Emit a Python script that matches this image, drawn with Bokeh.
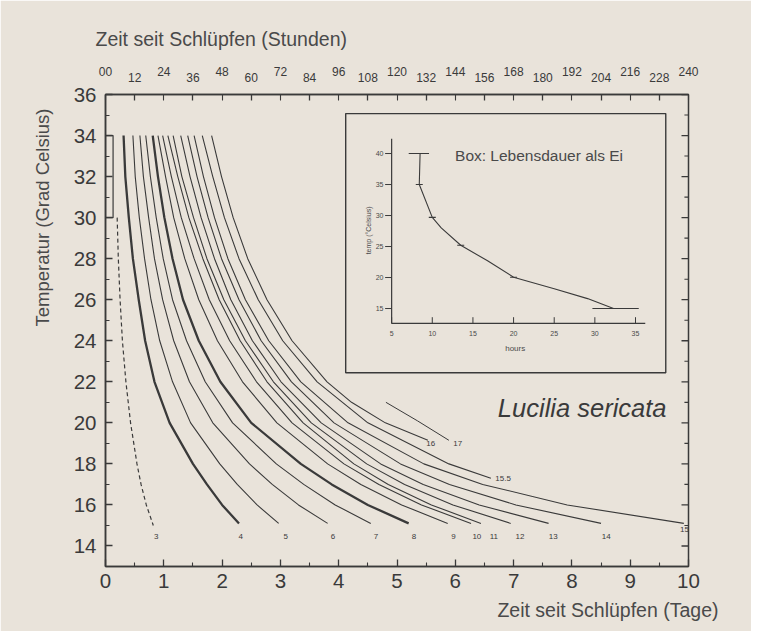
from math import pi
from bokeh.plotting import figure
from bokeh.models import LinearAxis, Range1d, FixedTicker, Title
from bokeh.core.properties import value
from bokeh.embed import file_html
from bokeh.resources import INLINE

# ---------------- data ----------------
# temperatures (deg C) at which each isoline was read
temps_full = [34, 32, 30, 28, 26, 24, 22, 20, 18, 17, 16, 15.1]
temps_3 = [30, 28, 26, 24, 22, 20, 18, 17, 16, 15.0]
temps_15_5 = [34, 32, 30, 28, 26, 24, 22, 20, 18, 17.3]
temps_16 = [34, 32, 30, 28, 26, 24, 22, 21, 20, 19.15]
temps_17 = [21.0, 20.1, 19.15]

# time since hatching (days) of each isoline
days_3 = [0.20, 0.22, 0.25, 0.29, 0.35, 0.43, 0.54, 0.61, 0.70, 0.82]
days_4 = [0.31, 0.34, 0.40, 0.47, 0.57, 0.68, 0.84, 1.10, 1.50, 1.74, 2.00, 2.29]
days_5 = [0.47, 0.51, 0.58, 0.67, 0.78, 0.93, 1.15, 1.46, 1.96, 2.26, 2.60, 2.97]
days_6 = [0.59, 0.65, 0.74, 0.84, 0.98, 1.17, 1.44, 1.84, 2.47, 2.86, 3.31, 3.81]
days_7 = [0.69, 0.77, 0.87, 0.99, 1.15, 1.39, 1.71, 2.18, 2.93, 3.40, 3.94, 4.55]
days_8 = [0.81, 0.90, 1.01, 1.15, 1.33, 1.60, 1.97, 2.50, 3.35, 3.88, 4.50, 5.20]
days_9 = [0.90, 1.03, 1.17, 1.36, 1.60, 1.92, 2.35, 2.94, 3.81, 4.38, 5.08, 5.87]
days_10 = [0.98, 1.13, 1.30, 1.52, 1.78, 2.13, 2.59, 3.20, 4.09, 4.69, 5.42, 6.27]
days_11 = [1.07, 1.24, 1.43, 1.67, 1.95, 2.31, 2.77, 3.39, 4.26, 4.85, 5.59, 6.44]
days_12 = [1.16, 1.31, 1.51, 1.74, 2.03, 2.40, 2.88, 3.53, 4.48, 5.13, 5.96, 6.95]
days_13 = [1.29, 1.45, 1.64, 1.87, 2.15, 2.52, 3.01, 3.70, 4.72, 5.45, 6.41, 7.60]
days_14 = [1.41, 1.57, 1.76, 1.99, 2.29, 2.67, 3.19, 3.92, 5.06, 5.90, 7.04, 8.50]
days_15 = [1.52, 1.68, 1.87, 2.10, 2.40, 2.80, 3.35, 4.16, 5.46, 6.47, 7.92, 9.92]
days_15_5 = [1.66, 1.84, 2.04, 2.29, 2.62, 3.04, 3.63, 4.50, 5.89, 6.61]
days_16 = [1.82, 1.99, 2.19, 2.44, 2.77, 3.20, 3.80, 4.22, 4.80, 5.53]
days_17 = [4.81, 5.35, 5.89]

curve_label_text = ["3", "4", "5", "6", "7", "8", "9", "10", "11", "12", "13", "14",
                    "15", "15.5", "16", "17"]
curve_label_days = [0.87, 2.32, 3.09, 3.90, 4.64, 5.29, 5.97, 6.37, 6.66, 7.11, 7.68,
                    8.59, 9.93, 6.82, 5.58, 6.04]
curve_label_temp = [14.45, 14.45, 14.45, 14.45, 14.45, 14.45, 14.45, 14.45, 14.45,
                    14.45, 14.45, 14.45, 14.8, 17.3, 19.0, 19.0]

# egg duration box (days, deg C)
egg_box_days = [0.0, 0.13]
egg_box_temp = [30, 34]

# inset: egg life span (hours vs deg C)
inset_hours = [8.5, 8.4, 10.0, 11.1, 13.5, 16.8, 20.0, 25.0, 29.1, 32.3]
inset_temp = [40, 35, 29.7, 28.0, 25.2, 22.7, 20.05, 18.2, 16.6, 15.0]
inset_pt_hours = [8.4, 10.0, 13.5, 20.0, 32.3]
inset_pt_temp = [35, 29.7, 25.2, 20.05, 15.0]
inset_cap_hours = [7.1, 9.6]
inset_cap_temp = [40, 40]
inset_bar_hours = [29.7, 35.4]
inset_bar_temp = [15, 15]
inset_xticks = [5, 10, 15, 20, 25, 30, 35]
inset_yticks = [15, 20, 25, 30, 35, 40]

# axis ticks
day_ticks = [0, 1, 2, 3, 4, 5, 6, 7, 8, 9, 10]
day_minor = [0.5, 1.5, 2.5, 3.5, 4.5, 5.5, 6.5, 7.5, 8.5, 9.5]
temp_ticks = [14, 16, 18, 20, 22, 24, 26, 28, 30, 32, 34, 36]
temp_minor = [13, 15, 17, 19, 21, 23, 25, 27, 29, 31, 33, 35]
hour_ticks_odd = [12, 36, 60, 84, 108, 132, 156, 180, 204, 228]
hour_ticks_even = [0, 24, 48, 72, 96, 120, 144, 168, 192, 216, 240]

# ---------------- styling ----------------
INK = "#3a3a3a"
SOFT = "#4a4a4a"
BG = "#e9e3da"
FONT = "Liberation Sans"

p = figure(width=751, height=631, x_range=Range1d(0, 10), y_range=Range1d(13, 36),
           output_backend="svg", toolbar_location=None, title=None,
           min_border_left=105, min_border_right=63, min_border_top=94,
           min_border_bottom=65, background_fill_color=BG, border_fill_color=BG)
p.grid.visible = False
p.outline_line_color = INK
p.outline_line_width = 1.5

p.extra_x_ranges = {"hours": Range1d(0, 240), "ix": Range1d(-30.2, 41.52)}
p.extra_y_ranges = {"iy": Range1d(-26.61, 49.52)}


def style_axis(ax, size, tick_in=7, minor_in=4):
    ax.axis_line_color = INK
    ax.axis_line_width = 1.5
    ax.major_tick_line_color = INK
    ax.major_tick_line_width = 1.3
    ax.minor_tick_line_color = INK
    ax.minor_tick_line_width = 1.1
    ax.major_tick_in = tick_in
    ax.major_tick_out = 0
    ax.minor_tick_in = minor_in
    ax.minor_tick_out = 0
    ax.major_label_text_font = FONT
    ax.major_label_text_font_size = size
    ax.major_label_text_color = INK


xa = p.xaxis[0]
xa.ticker = FixedTicker(ticks=day_ticks, minor_ticks=day_minor)
style_axis(xa, "20.5px")
xa.major_label_standoff = 7

ya = p.yaxis[0]
ya.ticker = FixedTicker(ticks=temp_ticks, minor_ticks=temp_minor)
style_axis(ya, "20.5px")
ya.major_label_standoff = 9

ta = LinearAxis(x_range_name="hours",
                ticker=FixedTicker(ticks=hour_ticks_odd, minor_ticks=hour_ticks_even))
style_axis(ta, "12px", tick_in=6, minor_in=6)
ta.major_label_standoff = 13
p.add_layout(ta, "above")

tb = LinearAxis(x_range_name="hours", ticker=FixedTicker(ticks=hour_ticks_even))
style_axis(tb, "12px", tick_in=0, minor_in=0)
tb.axis_line_color = None
tb.major_tick_line_color = None
tb.minor_tick_line_color = None
tb.major_label_standoff = -6
tb.major_label_overrides = {0: "00"}
p.add_layout(tb, "above")

p.add_layout(Title(text="Zeit seit Schlüpfen (Stunden)", align="left", offset=-10,
                   standoff=28, text_font=FONT, text_font_size="19.5px",
                   text_font_style="normal", text_color=SOFT), "above")
p.add_layout(Title(text="Zeit seit Schlüpfen (Tage)", align="right", offset=-30,
                   standoff=12, text_font=FONT, text_font_size="19.5px",
                   text_font_style="normal", text_color=SOFT), "below")
p.add_layout(Title(text="Temperatur (Grad Celsius)", align="right", offset=14,
                   standoff=36, text_font=FONT, text_font_size="18.5px",
                   text_font_style="normal", text_color=SOFT), "left")

# inward ticks on the right frame edge
p.segment(x0=[10] * len(temp_ticks), y0=temp_ticks, x1=[9.88] * len(temp_ticks),
          y1=temp_ticks, line_color=INK, line_width=1.3)
p.segment(x0=[10] * len(temp_minor), y0=temp_minor, x1=[9.93] * len(temp_minor),
          y1=temp_minor, line_color=INK, line_width=1.1)

# ---------------- isolines ----------------
curves = [
    (days_3, temps_3, 1.2, "4 3"),
    (days_4, temps_full, 2.3, "solid"),
    (days_5, temps_full, 1.1, "solid"),
    (days_6, temps_full, 1.1, "solid"),
    (days_7, temps_full, 1.1, "solid"),
    (days_8, temps_full, 2.3, "solid"),
    (days_9, temps_full, 1.1, "solid"),
    (days_10, temps_full, 1.1, "solid"),
    (days_11, temps_full, 1.1, "solid"),
    (days_12, temps_full, 1.1, "solid"),
    (days_13, temps_full, 1.1, "solid"),
    (days_14, temps_full, 1.1, "solid"),
    (days_15, temps_full, 1.1, "solid"),
    (days_15_5, temps_15_5, 1.1, "solid"),
    (days_16, temps_16, 1.1, "solid"),
    (days_17, temps_17, 1.0, "solid"),
]
for d, t, w, dash in curves:
    p.line(d, t, line_color=INK, line_width=w, line_dash=dash, line_join="round")

p.text(x=curve_label_days, y=curve_label_temp, text=curve_label_text,
       text_font=value(FONT), text_font_size="8px", text_color=INK,
       text_align="center", text_baseline="middle")

p.quad(left=[egg_box_days[0]], right=[egg_box_days[1]], bottom=[egg_box_temp[0]],
       top=[egg_box_temp[1]], fill_color=None, line_color=INK, line_width=1.2)

p.text(x=[6.73], y=[20.7], text=["Lucilia sericata"], text_font=value(FONT),
       text_font_style="italic", text_font_size="25.5px", text_color=INK,
       text_baseline="middle")

# ---------------- inset ----------------
p.quad(left=[4.12], right=[9.61], bottom=[22.44], top=[35.07], fill_color=None,
       line_color=INK, line_width=1.4)

ik = dict(x_range_name="ix", y_range_name="iy")
p.segment(x0=[5, 5], y0=[12.6, 12.6], x1=[36.2, 5], y1=[12.6, 42.4],
          line_color=INK, line_width=1.2, **ik)
p.segment(x0=inset_xticks, y0=[12.6] * len(inset_xticks), x1=inset_xticks,
          y1=[13.6] * len(inset_xticks), line_color=INK, line_width=1, **ik)
p.segment(x0=[5] * len(inset_yticks), y0=inset_yticks, x1=[4.2] * len(inset_yticks),
          y1=inset_yticks, line_color=INK, line_width=1, **ik)
p.text(x=inset_xticks, y=[10.9] * len(inset_xticks), text=[str(v) for v in inset_xticks],
       text_font=value(FONT), text_font_size="7px", text_color=SOFT,
       text_align="center", text_baseline="middle", **ik)
p.text(x=[4.0] * len(inset_yticks), y=inset_yticks, text=[str(v) for v in inset_yticks],
       text_font=value(FONT), text_font_size="7px", text_color=SOFT,
       text_align="right", text_baseline="middle", **ik)
p.text(x=[20.2], y=[8.6], text=["hours"], text_font=value(FONT), text_font_size="8px",
       text_color=SOFT, text_align="center", text_baseline="middle", **ik)
p.text(x=[2.1], y=[27.6], text=["temp (°Celsius)"], angle=pi / 2, text_font=value(FONT),
       text_font_size="7px", text_color=SOFT, text_align="center",
       text_baseline="middle", **ik)
p.text(x=[12.8], y=[39.7], text=["Box: Lebensdauer als Ei"], text_font=value(FONT),
       text_font_size="15.5px", text_color=SOFT, text_baseline="middle", **ik)

p.line(inset_hours, inset_temp, line_color=INK, line_width=1.1, **ik)
p.line(inset_cap_hours, inset_cap_temp, line_color=INK, line_width=1.1, **ik)
p.line(inset_bar_hours, inset_bar_temp, line_color=INK, line_width=1.1, **ik)
p.scatter(inset_pt_hours, inset_pt_temp, marker="dash", size=7, line_color=INK,
          line_width=1.1, **ik)

open("out.html", "w").write(file_html(p, INLINE))
